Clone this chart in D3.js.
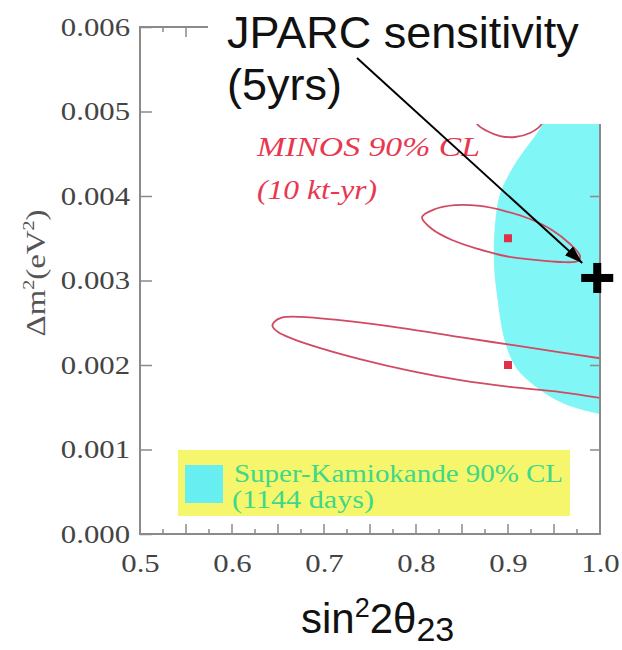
<!DOCTYPE html>
<html>
<head>
<meta charset="utf-8">
<script src="https://cdn.jsdelivr.net/npm/d3@7"></script>
<style>
  body { margin: 0; background: #fff; }
  svg { display: block; }
</style>
</head>
<body>
<div id="chart"></div>
<script>

// axis ticks
var xTicks = [0.5, 0.6, 0.7, 0.8, 0.9, 1.0];
var xMinorTicks = [0.525, 0.55, 0.575, 0.6, 0.625, 0.65, 0.675, 0.7, 0.725, 0.75, 0.775, 0.8,
    0.825, 0.85, 0.875, 0.9, 0.925, 0.95, 0.975];
var yTicks = [0, 0.001, 0.002, 0.003, 0.004, 0.005, 0.006];

// Super-Kamiokande 90% CL region, left edge (sin^2 2theta, dm^2)
var skEdge = [[0.975, 0.0060], [0.955, 0.0052], [0.938, 0.00484], [0.924, 0.00463], [0.910, 0.00443],
    [0.899, 0.00422], [0.891, 0.00404], [0.887, 0.00383], [0.884, 0.00344], [0.885, 0.00304],
    [0.889, 0.00277], [0.893, 0.00238], [0.905, 0.00198], [0.924, 0.00179], [0.949, 0.00159],
    [0.975, 0.00148], [1.0, 0.00142]];

// MINOS 90% CL contours
var minosUpper = [[0.8065, 0.00375], [0.8207, 0.003846], [0.8424, 0.003893], [0.8696, 0.003882],
    [0.8967, 0.003822], [0.9239, 0.003728], [0.9478, 0.003598], [0.9674, 0.003432], [0.9783, 0.00329],
    [0.9761, 0.003231], [0.9565, 0.003219], [0.9293, 0.003243], [0.8967, 0.00329], [0.8674, 0.003373],
    [0.8391, 0.003479], [0.8174, 0.003609]];
var minosLower = [[1.0, 0.00208], [0.957, 0.00215], [0.902, 0.00224], [0.848, 0.00233], [0.783, 0.00244],
    [0.717, 0.00253], [0.674, 0.00257], [0.654, 0.00256], [0.646, 0.00251], [0.644, 0.00246],
    [0.650, 0.00239], [0.666, 0.00231], [0.696, 0.00220], [0.739, 0.00207], [0.794, 0.00193],
    [0.848, 0.00182], [0.902, 0.00174], [0.957, 0.00168], [1.0, 0.00161]];
var minosTop = [[0.8587, 0.00502], [0.8663, 0.004852], [0.8772, 0.004769], [0.8913, 0.00471],
    [0.9076, 0.004698], [0.9239, 0.004746], [0.9359, 0.00484], [0.9435, 0.00502]];
var minosBest = [[0.9, 0.0035], [0.9, 0.002]];

// JPARC sensitivity point
var jparcPoint = [0.997, 0.00303];

var W = 622, H = 650;
var serif = "'Liberation Serif', 'Times New Roman', serif";
var sans = "'Liberation Sans', Arial, Helvetica, sans-serif";

var svg = d3.select("#chart").append("svg")
    .attr("width", W)
    .attr("height", H);

var x = d3.scaleLinear().domain([0.5, 1.0]).range([140, 600]),
    y = d3.scaleLinear().domain([0, 0.006]).range([534, 27]);

svg.append("defs").append("clipPath")
    .attr("id", "plotclip")
    .append("rect")
    .attr("x", x(0.5)).attr("y", y(0.006))
    .attr("width", x(1.0) - x(0.5))
    .attr("height", y(0) - y(0.006));

var plot = svg.append("g").attr("clip-path", "url(#plotclip)");

// SK allowed region
var skLine = d3.line()
    .x(function (d) { return x(d[0]); })
    .y(function (d) { return y(d[1]); })
    .curve(d3.curveBasis);

plot.append("path")
    .attr("d", skLine(skEdge) + "L" + x(1.0) + "," + y(0.006) + "Z")
    .attr("fill", "#80f6f6");

// MINOS contours
var openLine = d3.line()
    .x(function (d) { return x(d[0]); })
    .y(function (d) { return y(d[1]); })
    .curve(d3.curveCatmullRom);

var loopLine = d3.line()
    .x(function (d) { return x(d[0]); })
    .y(function (d) { return y(d[1]); })
    .curve(d3.curveCatmullRomClosed);

plot.append("path")
    .attr("d", loopLine(minosUpper))
    .attr("fill", "none")
    .attr("stroke", "#d24a62")
    .attr("stroke-width", 1.8);

[minosLower, minosTop].forEach(function (c) {
    plot.append("path")
        .attr("d", openLine(c))
        .attr("fill", "none")
        .attr("stroke", "#d24a62")
        .attr("stroke-width", 1.8);
});

plot.selectAll(".best")
    .data(minosBest)
    .enter().append("rect")
    .attr("class", "best")
    .attr("x", function (d) { return x(d[0]) - 4; })
    .attr("y", function (d) { return y(d[1]) - 4; })
    .attr("width", 8)
    .attr("height", 8)
    .attr("fill", "#e0304a");

// frame + ticks
var axisColor = "#8a8a8a", labelColor = "#444";

svg.append("rect")
    .attr("x", x(0.5)).attr("y", y(0.006))
    .attr("width", x(1.0) - x(0.5))
    .attr("height", y(0) - y(0.006))
    .attr("fill", "none")
    .attr("stroke", axisColor)
    .attr("stroke-width", 2);

var yAxis = svg.append("g")
    .attr("transform", "translate(" + x(0.5) + ",0)")
    .call(d3.axisLeft(y).tickValues(yTicks).tickFormat(d3.format(".3f"))
        .tickSizeInner(-12).tickSizeOuter(0).tickPadding(10));

var yAxisR = svg.append("g")
    .attr("transform", "translate(" + x(1.0) + ",0)")
    .call(d3.axisRight(y).tickValues(yTicks.slice(1, 6)).tickFormat("")
        .tickSizeInner(-10).tickSizeOuter(0));

var xAxis = svg.append("g")
    .attr("transform", "translate(0," + y(0) + ")")
    .call(d3.axisBottom(x).tickValues(xTicks).tickFormat(d3.format(".1f"))
        .tickSizeInner(0).tickSizeOuter(0).tickPadding(20));

// minor ticks pointing inward, bottom and top
var tickLen = function (d) { return Math.round(d * 1000) % 50 === 0 ? 10 : 5; };
svg.append("g").selectAll("line")
    .data(xMinorTicks)
    .enter().append("line")
    .attr("x1", function (d) { return x(d); })
    .attr("x2", function (d) { return x(d); })
    .attr("y1", y(0))
    .attr("y2", function (d) { return y(0) - tickLen(d); })
    .attr("stroke", axisColor).attr("stroke-width", 1.5);
svg.append("g").selectAll("line")
    .data(xMinorTicks)
    .enter().append("line")
    .attr("x1", function (d) { return x(d); })
    .attr("x2", function (d) { return x(d); })
    .attr("y1", y(0.006))
    .attr("y2", function (d) { return y(0.006) + tickLen(d); })
    .attr("stroke", axisColor).attr("stroke-width", 1.5);

[yAxis, yAxisR, xAxis].forEach(function (g) {
    g.select(".domain").remove();
    g.selectAll(".tick line").attr("stroke", axisColor).attr("stroke-width", 1.5);
    g.selectAll(".tick text")
        .attr("fill", labelColor)
        .style("font-family", serif)
        .style("font-size", "25px")
        .attr("lengthAdjust", "spacingAndGlyphs")
        .attr("textLength", function () { return this.getComputedTextLength() * 1.23; });
});
xAxis.selectAll(".tick text").attr("dy", "0.71em");

// y axis title
svg.append("text")
    .attr("transform", "translate(45,273) rotate(-90) scale(1,1.2)")
    .attr("text-anchor", "middle")
    .attr("fill", "#555")
    .style("font-family", serif)
    .style("font-size", "23px")
    .attr("textLength", 127)
    .attr("lengthAdjust", "spacingAndGlyphs")
    .html("\u0394m<tspan dy='-9' font-size='14'>2</tspan><tspan dy='9'>(eV</tspan><tspan dy='-9' font-size='14'>2</tspan><tspan dy='9'>)</tspan>");

// MINOS label
var minosLabel = svg.append("g")
    .attr("fill", "#e8384f")
    .style("font-family", serif)
    .style("font-style", "italic")
    .style("font-size", "27px");
minosLabel.append("text").attr("x", 257).attr("y", 156)
    .attr("textLength", 223).attr("lengthAdjust", "spacingAndGlyphs")
    .text("MINOS 90% CL");
minosLabel.append("text").attr("x", 257).attr("y", 199)
    .attr("textLength", 120).attr("lengthAdjust", "spacingAndGlyphs")
    .text("(10 kt-yr)");

// SK legend
svg.append("rect")
    .attr("x", 178).attr("y", 450)
    .attr("width", 392).attr("height", 66)
    .attr("fill", "#f6f66c");
svg.append("rect")
    .attr("x", 185).attr("y", 465)
    .attr("width", 38).attr("height", 38)
    .attr("fill", "#66eef0");
var skLabel = svg.append("g")
    .attr("fill", "#3ed88a")
    .style("font-family", serif)
    .style("font-size", "25px");
skLabel.append("text").attr("x", 234).attr("y", 482)
    .attr("textLength", 329).attr("lengthAdjust", "spacingAndGlyphs")
    .text("Super-Kamiokande 90% CL");
skLabel.append("text").attr("x", 232).attr("y", 508)
    .attr("textLength", 142).attr("lengthAdjust", "spacingAndGlyphs")
    .text("(1144 days)");

// white panel behind the JPARC annotation
svg.append("rect")
    .attr("x", 208).attr("y", 0)
    .attr("width", W - 208).attr("height", 124)
    .attr("fill", "#fff");

svg.append("text")
    .attr("x", 227).attr("y", 48)
    .attr("fill", "#111")
    .style("font-family", sans)
    .style("font-size", "45px")
    .text("JPARC sensitivity");
svg.append("text")
    .attr("x", 227).attr("y", 100)
    .attr("fill", "#111")
    .style("font-family", sans)
    .style("font-size", "45px")
    .text("(5yrs)");

// arrow to the JPARC point
svg.select("defs").append("marker")
    .attr("id", "head")
    .attr("markerUnits", "userSpaceOnUse")
    .attr("markerWidth", 20).attr("markerHeight", 14)
    .attr("refX", 18).attr("refY", 6)
    .attr("orient", "auto")
    .append("path")
    .attr("d", "M0,0L18,6L0,12Z")
    .attr("fill", "#000");

var px = x(jparcPoint[0]), py = y(jparcPoint[1]);
svg.append("line")
    .attr("x1", 357).attr("y1", 58)
    .attr("x2", px - 15).attr("y2", py - 15)
    .attr("stroke", "#000")
    .attr("stroke-width", 2)
    .attr("marker-end", "url(#head)");

// JPARC cross
svg.append("rect")
    .attr("x", px - 16).attr("y", py - 4)
    .attr("width", 32).attr("height", 8)
    .attr("fill", "#000");
svg.append("rect")
    .attr("x", px - 4).attr("y", py - 15)
    .attr("width", 8).attr("height", 30)
    .attr("fill", "#000");

// x axis title
var xt = svg.append("text")
    .attr("x", 301).attr("y", 633)
    .attr("fill", "#111")
    .style("font-family", sans)
    .style("font-size", "42px");
xt.append("tspan").text("sin");
xt.append("tspan").attr("dy", -16).style("font-size", "27px").text("2");
xt.append("tspan").attr("dy", 16).style("font-size", "42px").text("2\u03b8");
xt.append("tspan").attr("dy", 8).style("font-size", "34px").text("23");

</script>
</body>
</html>
